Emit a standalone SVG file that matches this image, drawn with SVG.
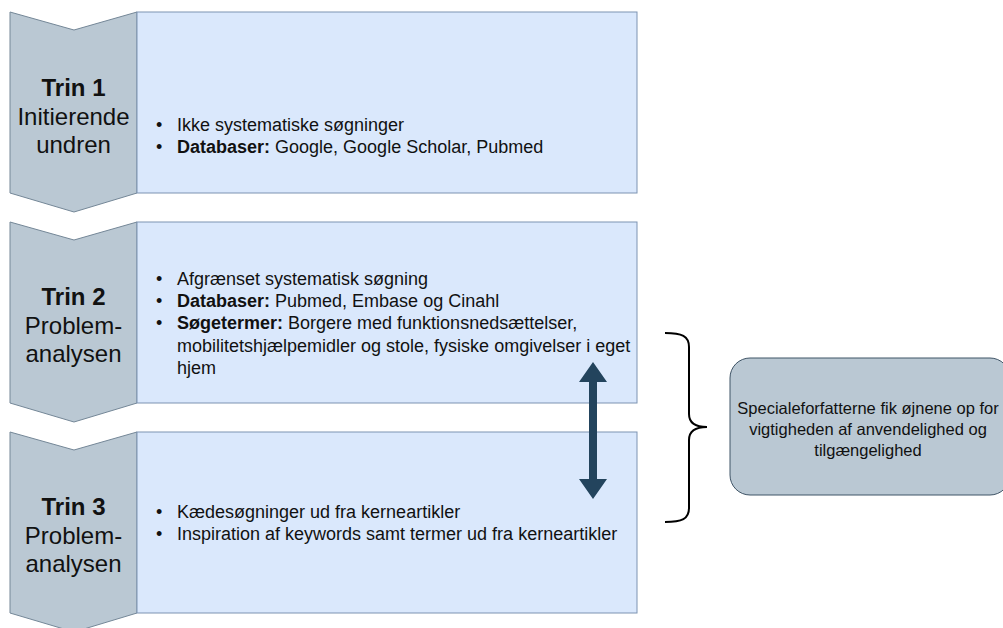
<svg xmlns="http://www.w3.org/2000/svg" width="1003" height="628" viewBox="0 0 1003 628">
<style>
.chev{fill:#bac8d3;stroke:#748797;stroke-width:1}
.box{fill:#dae8fc;stroke:#7d93b2;stroke-width:1}
.title{font-family:"Liberation Sans",Arial,Helvetica,sans-serif;font-size:24px;fill:#111;text-anchor:middle}
.b{font-weight:bold}
.body{font-family:"Liberation Sans",Arial,Helvetica,sans-serif;font-size:18px;fill:#111}
.note{font-family:"Liberation Sans",Arial,Helvetica,sans-serif;font-size:16.5px;fill:#111;text-anchor:middle}
</style>
<rect width="1003" height="628" fill="#ffffff"/>
<g id="step1">
<polygon class="chev" points="10,12 74,30 137,12 137,193 74,212 10,193"/>
<rect class="box" x="137" y="12" width="500" height="181"/>
<text class="title"><tspan class="b" x="73.5" y="96">Trin 1</tspan><tspan x="73.5" y="124.5">Initierende</tspan><tspan x="73.5" y="153">undren</tspan></text>
<text class="body"><tspan x="156" y="131">•</tspan><tspan x="177" y="131">Ikke systematiske søgninger</tspan><tspan x="156" y="153">•</tspan><tspan x="177" y="153"><tspan class="b">Databaser:</tspan> Google, Google Scholar, Pubmed</tspan></text>
</g>
<g id="step2">
<polygon class="chev" points="10,222 74,240 137,222 137,403 74,422 10,403"/>
<rect class="box" x="137" y="222" width="500" height="181"/>
<text class="title"><tspan class="b" x="73.5" y="305">Trin 2</tspan><tspan x="73.5" y="333.5">Problem-</tspan><tspan x="73.5" y="362">analysen</tspan></text>
<text class="body"><tspan x="156" y="285">•</tspan><tspan x="177" y="285">Afgrænset systematisk søgning</tspan><tspan x="156" y="307">•</tspan><tspan x="177" y="307"><tspan class="b">Databaser:</tspan> Pubmed, Embase og Cinahl</tspan><tspan x="156" y="329">•</tspan><tspan x="177" y="329"><tspan class="b">Søgetermer:</tspan> Borgere med funktionsnedsættelser,</tspan><tspan x="177" y="351.5">mobilitetshjælpemidler og stole, fysiske omgivelser i eget</tspan><tspan x="177" y="374">hjem</tspan></text>
</g>
<g id="step3">
<polygon class="chev" points="10,432 74,450 137,432 137,613 74,632 10,613"/>
<rect class="box" x="137" y="432" width="500" height="181"/>
<text class="title"><tspan class="b" x="73.5" y="515">Trin 3</tspan><tspan x="73.5" y="543.5">Problem-</tspan><tspan x="73.5" y="572">analysen</tspan></text>
<text class="body"><tspan x="156" y="518">•</tspan><tspan x="177" y="518">Kædesøgninger ud fra kerneartikler</tspan><tspan x="156" y="540">•</tspan><tspan x="177" y="540">Inspiration af keywords samt termer ud fra kerneartikler</tspan></text>
</g>
<g id="conclusion">
<rect x="730" y="358" width="280" height="137" rx="20" ry="20" fill="#bac8d3" stroke="#3f5466" stroke-width="1"/>
<text class="note"><tspan x="868" y="414">Specialeforfatterne fik øjnene op for</tspan><tspan x="868" y="435">vigtigheden af anvendelighed og</tspan><tspan x="868" y="456">tilgængelighed</tspan></text>
</g>
<g id="connectors">
<polygon fill="#23445d" points="593,362 607,382 597,382 597,479 607,479 593,499 579,479 589,479 589,382 579,382"/>
<path d="M665,333 C682,333 689,336 689,347 L689,414 C689,423 695,427 707,427 C695,427 689,431 689,440 L689,508 C689,519 682,522 665,522" fill="none" stroke="#000" stroke-width="2"/>
</g>
</svg>
